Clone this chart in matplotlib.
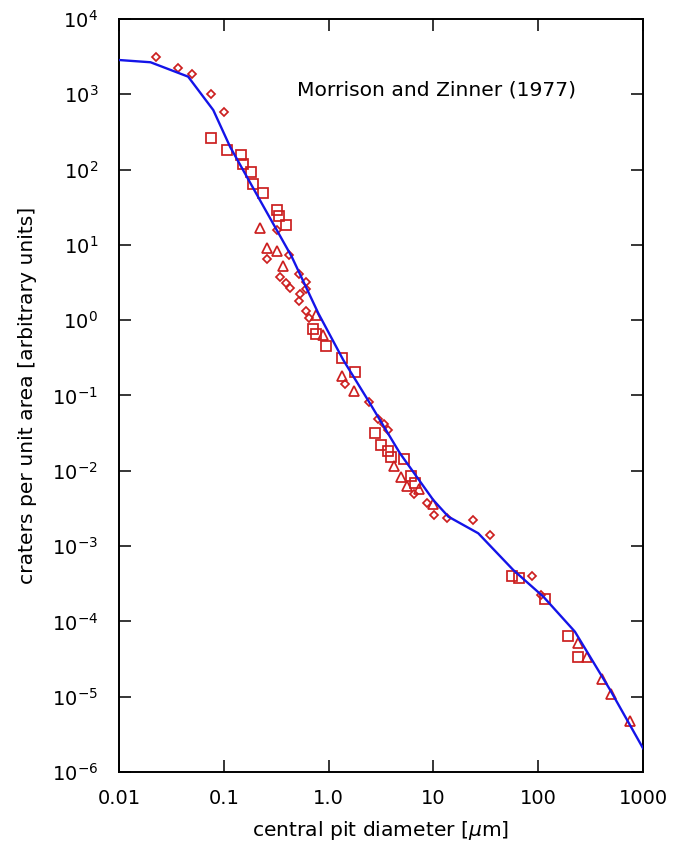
import numpy as np
import matplotlib
matplotlib.use("Agg")
import matplotlib.pyplot as plt
from matplotlib.ticker import FixedLocator, NullLocator, LogFormatterSciNotation

# model curve
fit_x = [0.01, 0.0200, 0.0457, 0.0794, 0.115, 0.221, 0.445, 0.798, 1.38, 2.48,
         4.80, 9.98, 13.9, 26.8, 57.8, 112, 224, 486, 1000]
fit_y = [2851, 2661, 1714, 617, 200, 39.4, 6.97, 1.236, 0.2965, 0.0787,
         0.01706, 0.00409, 0.00246, 0.00148, 4.82e-4, 2.13e-4, 7.31e-5,
         1.23e-5, 2.07e-6]

# diamonds
dia_x = [0.0224, 0.0368, 0.0494, 0.0755, 0.100, 0.320, 0.256, 0.417, 0.341,
         0.394, 0.425, 0.525, 0.612, 0.528, 0.608, 0.525, 0.608, 0.655, 1.43,
         2.41, 2.99, 3.40, 3.71, 6.57, 8.63, 10.1, 13.4, 24.0, 34.7, 86.7, 107]
dia_y = [3160, 2210, 1860, 1000, 582, 15.8, 6.44, 7.30, 3.75, 3.12, 2.66,
         4.08, 3.17, 2.24, 2.57, 1.82, 1.32, 1.06, 0.142, 0.0828, 0.0488,
         0.0412, 0.0345, 0.00489, 0.00377, 0.00261, 0.00238, 0.00220, 0.00140,
         4.07e-4, 2.21e-4]

# squares
sq_x = [0.0755, 0.108, 0.146, 0.153, 0.181, 0.191, 0.238, 0.320, 0.340, 0.394,
        0.705, 0.759, 0.937, 1.35, 1.79, 2.77, 3.16, 3.65, 3.94, 5.28, 6.09,
        6.67, 55.8, 66.0, 117, 192, 238]
sq_y = [265, 182, 156, 119, 92.1, 64.4, 49.3, 28.9, 24.2, 18.6, 0.764, 0.650,
        0.454, 0.312, 0.203, 0.0315, 0.0220, 0.0185, 0.0154, 0.0142, 0.00845,
        0.00695, 4.07e-4, 3.73e-4, 2.01e-4, 6.34e-5, 3.40e-5]

# triangles
tri_x = [0.221, 0.256, 0.320, 0.367, 0.759, 0.879, 1.33, 1.76, 4.24, 4.91,
         5.66, 7.33, 9.98, 241, 295, 402, 495, 752]
tri_y = [16.6, 9.02, 8.30, 5.28, 1.17, 0.636, 0.182, 0.116, 0.0117, 0.00822,
         0.00628, 0.00568, 0.00362, 5.16e-5, 3.40e-5, 1.72e-5, 1.08e-5, 4.75e-6]

xticks = [0.01, 0.1, 1.0, 10, 100, 1000]
xticklabels = ['0.01', '0.1', '1.0', '10', '100', '1000']
yticks = [1e-6, 1e-5, 1e-4, 1e-3, 1e-2, 1e-1, 1e0, 1e1, 1e2, 1e3, 1e4]

red = '#cc1f1f'
blue = '#1414e8'

fig = plt.figure(figsize=(6.81, 8.43), dpi=100)
ax = fig.add_axes([0.1747, 0.0842, 0.7695, 0.8933])

ax.plot(fit_x, fit_y, color=blue, lw=1.7, zorder=3)
ax.plot(dia_x, dia_y, ls='none', marker='D', ms=4.4, mfc='none', mec=red, mew=1.25)
ax.plot(sq_x, sq_y, ls='none', marker='s', ms=6.8, mfc='none', mec=red, mew=1.25)
ax.plot(tri_x, tri_y, ls='none', marker='^', ms=6.5, mfc='none', mec=red, mew=1.25)

ax.set_xscale('log')
ax.set_yscale('log')
ax.set_xlim(0.01, 1000)
ax.set_ylim(1e-6, 1e4)

ax.xaxis.set_major_locator(FixedLocator(xticks))
ax.set_xticklabels(xticklabels)
ax.xaxis.set_minor_locator(NullLocator())
ax.yaxis.set_major_locator(FixedLocator(yticks))
ax.yaxis.set_major_formatter(LogFormatterSciNotation())
ax.yaxis.set_minor_locator(NullLocator())

ax.tick_params(direction='in', length=8.6, width=1.1, top=True, right=True,
               labelsize=14)
ax.tick_params(axis='y', pad=15)
ax.tick_params(axis='x', pad=12)
for s in ax.spines.values():
    s.set_linewidth(1.4)

ax.set_xlabel(r'central pit diameter [$\mu$m]', fontsize=14.6, labelpad=8)
ax.set_ylabel('craters per unit area [arbitrary units]', fontsize=14.6, labelpad=11)

ax.text(0.605, 0.906, 'Morrison and Zinner (1977)', transform=ax.transAxes,
        ha='center', va='center', fontsize=14.6)

fig.savefig('out.png', dpi=100)
